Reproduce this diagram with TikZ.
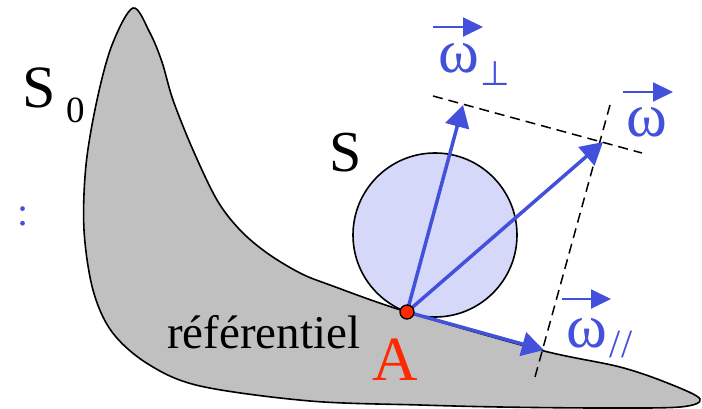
\documentclass[tikz,border=0pt]{standalone}
\usepackage{fontspec}
\setmainfont{Liberation Serif}
\newfontfamily\symfont{DejaVu Sans}
\usetikzlibrary{arrows.meta}
\definecolor{vblue}{RGB}{66,80,220}
\definecolor{sfill}{RGB}{214,216,250}
\definecolor{gfill}{RGB}{191,192,191}
\definecolor{ared}{RGB}{255,40,0}
\begin{document}
\begin{tikzpicture}[x=1pt,y=-1pt,
  vec/.style={vblue, line width=3.5pt, -{Triangle[length=22pt,width=24pt]}},
  lblarrow/.style={vblue, line width=2pt, -{Triangle[length=20pt,width=19pt]}},
  guide/.style={black, line width=1.5pt, dash pattern=on 10pt off 6pt},
  lbl/.style={inner sep=0pt, outer sep=0pt},
  wlbl/.style={lbl, vblue, font=\fontsize{62}{70}\selectfont},
]
\useasboundingbox (0,0) rectangle (702,409);

% reference body S0
\filldraw[fill=gfill, draw=black, line width=1.6pt]
  plot[smooth cycle, tension=0.55] coordinates {
  (133,8) (150,33) (162,62) (173,100) (193,150) (217,200) (240,230) (267,253)
  (300,273) (330,285) (407,312) (540,350) (620,367) (670,384) (700,399)
  (680,407) (600,408) (500,407) (420,405)
  (310,401) (200,386) (148,364) (112,332) (93,290) (84,230) (86,165) (97,100) (112,45)};

% solid S
\draw[fill=sfill, line width=1.6pt] (435,235) circle (82);

% guide lines
\coordinate (g1a) at (433,96);
\coordinate (g1b) at (642,153);
\coordinate (g2a) at (610,105);
\coordinate (g2b) at (535,377);
\draw[guide] (g1a) -- (g1b);
\draw[guide] (g2a) -- (g2b);

% vectors
\coordinate (Ac) at (407,312);
\coordinate (tperp) at (463,105);
\coordinate (tw) at (603,142);
\coordinate (tpar) at (544,350);
\draw[vec] (Ac) -- (tperp);
\draw[vec] (Ac) -- (tw);
\draw[vec] (Ac) -- (tpar);

% point A
\node[circle, fill=ared, draw=black, line width=1.3pt, minimum size=14pt, inner sep=0pt] (A) at (Ac) {};

% labels
\node[lbl, anchor=base west, font=\fontsize{60}{70}\selectfont] (S0) at (22,108) {S};
\node[lbl, anchor=base west, font=\fontsize{37}{44}\selectfont] (S0sub) at (66,123) {0};
\node[lbl, anchor=base, font=\fontsize{58}{70}\selectfont] (S) at (346,172) {S};
\node[lbl, anchor=base west, font=\fontsize{47}{56}\selectfont] (ref) at (167,348) {référentiel};
\node[lbl, anchor=base, ared, font=\fontsize{63}{72}\selectfont] (Alab) at (395,380) {A};
\node[lbl, vblue, font=\fontsize{40}{48}\selectfont] (dots) at (23,216) {:};

\node[wlbl] (wperp) at (459,58) {ω};
\node[lbl, vblue, font=\symfont\fontsize{34}{40}\selectfont] (perp) at (495,74) {⊥};
\node[wlbl] (w) at (647,122) {ω};
\node[wlbl] (wpar) at (587,333) {ω};
\node[lbl, vblue, font=\fontsize{40}{48}\selectfont] (par) at (621,345) {//};

\coordinate (a1s) at (433,27); \coordinate (a1e) at (483,27);
\coordinate (a2s) at (623,92); \coordinate (a2e) at (673,92);
\coordinate (a3s) at (562,299); \coordinate (a3e) at (611,299);
\draw[lblarrow] (a1s) -- (a1e);
\draw[lblarrow] (a2s) -- (a2e);
\draw[lblarrow] (a3s) -- (a3e);
\end{tikzpicture}
\end{document}
